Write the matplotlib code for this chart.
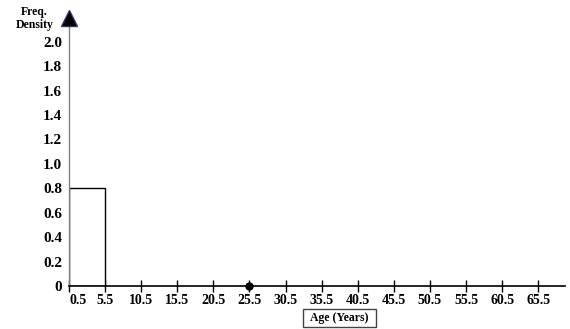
import matplotlib

matplotlib.use("Agg")
import matplotlib.pyplot as plt
from matplotlib.patches import Rectangle

# Histogram data: one class interval with its frequency density
class_lower = [0.5]
class_upper = [5.5]
freq_density = [0.8]

# Point marked on the x axis
point_x = [25.5]
point_y = [0]

x_ticks = [0.5, 5.5, 10.5, 15.5, 20.5, 25.5, 30.5, 35.5, 40.5, 45.5, 50.5,
           55.5, 60.5, 65.5]
y_ticks = [0, 0.2, 0.4, 0.6, 0.8, 1.0, 1.2, 1.4, 1.6, 1.8, 2.0]
y_tick_labels = ["0", "0.2", "0.4", "0.6", "0.8", "1.0", "1.2", "1.4", "1.6",
                 "1.8", "2.0"]

W, H = 570, 329
FONT = "Liberation Serif"

fig = plt.figure(figsize=(W / 100, H / 100), dpi=100)
fig.patch.set_facecolor("white")

# axes box in pixels: y axis at x=69, x axis at y=286, top at y=12
left, right, bottom, top = 69, 565, 286, 12
ax = fig.add_axes([left / W, (H - bottom) / H, (right - left) / W,
                   (bottom - top) / H])
ax.set_xlim(0.5, 69.2)
ax.set_ylim(0, 2.243)

for lo, hi, d in zip(class_lower, class_upper, freq_density):
    ax.bar(lo, d, width=hi - lo, align="edge", facecolor="white",
           edgecolor="black", linewidth=1.0, zorder=2)

ax.plot(point_x, point_y, "o", color="black", markersize=5, clip_on=False,
        zorder=5)

for side in ("top", "right"):
    ax.spines[side].set_visible(False)
ax.spines["left"].set_color("#808080")
ax.spines["left"].set_linewidth(1.0)
ax.spines["bottom"].set_color("black")
ax.spines["bottom"].set_linewidth(1.2)

# arrow head at the top of the y axis
ax.plot([0.5], [2.19], marker="^", markersize=11, color="black",
        markeredgecolor="#333366", clip_on=False, zorder=6)

ax.set_xticks(x_ticks)
ax.set_xticklabels([f"{v:g}" for v in x_ticks], fontfamily=FONT,
                   fontweight="bold", fontsize=10)
ax.get_xticklabels()[0].set_horizontalalignment("left")
ax.tick_params(axis="x", direction="inout", length=8, width=1.0,
               color="black", pad=2)
ax.set_yticks(y_ticks)
ax.set_yticklabels(y_tick_labels, fontfamily=FONT, fontweight="bold",
                   fontsize=11)
ax.tick_params(axis="y", length=0, pad=5)

fig.text(34 / W, 1 - 12 / H, "Freq.", ha="center", va="center",
         fontfamily=FONT, fontweight="bold", fontsize=8.5)
fig.text(35 / W, 1 - 25 / H, "Density", ha="center", va="center",
         fontfamily=FONT, fontweight="bold", fontsize=8.5)

# x axis title in a box
bx0, bx1, by0, by1 = 303, 376, 309, 327
fig.patches.append(Rectangle((bx0 / W, 1 - by1 / H), (bx1 - bx0) / W,
                             (by1 - by0) / H, transform=fig.transFigure,
                             facecolor="white", edgecolor="#444444",
                             linewidth=1.0))
fig.text((bx0 + bx1) / 2 / W, 1 - (by0 + by1) / 2 / H, "Age (Years)",
         ha="center", va="center", fontfamily=FONT, fontweight="bold",
         fontsize=8.5)

fig.savefig("out.png", dpi=100, facecolor="white")
